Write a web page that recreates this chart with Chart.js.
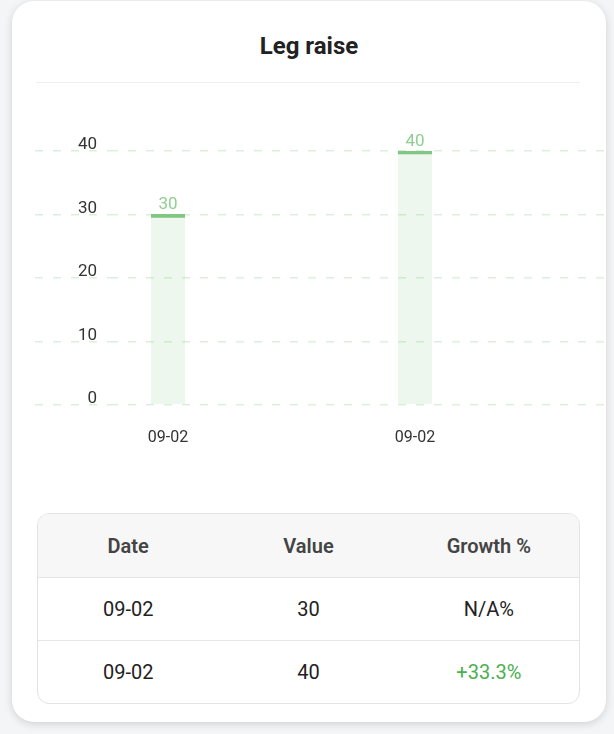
<!DOCTYPE html>
<html><head><meta charset="utf-8">
<script src="https://cdn.jsdelivr.net/npm/chart.js@4"></script>
<style>
html,body{margin:0;padding:0;width:614px;height:734px;overflow:hidden;background:#f4f5f7;font-family:Roboto,sans-serif;}
.card{position:absolute;left:12px;top:1px;width:594px;height:721px;background:#fff;border-radius:22px;box-shadow:0 2px 8px rgba(0,0,0,0.15);}
.title{position:absolute;left:0;top:31px;width:594px;text-align:center;font-weight:700;font-size:24px;color:#222;}
.hr{position:absolute;left:24px;top:81px;width:544px;height:1px;background:#eee;}
#wrap{position:absolute;left:0;top:90px;width:614px;height:400px;}
table{position:absolute;left:37px;top:513px;width:543px;table-layout:fixed;border-collapse:separate;border-spacing:0;border:1px solid #e3e3e3;border-radius:12px;overflow:hidden;font-size:20px;}
th{background:#f7f7f7;color:#444;font-weight:600;height:61px;border-bottom:1px solid #e6e6e6;}
td{text-align:center;color:#222;height:60px;}
tr.r1 td{border-bottom:1px solid #e6e6e6;}
.pos{color:#4caf50;}
</style></head><body>
<div class="card"><div class="title">Leg raise</div><div class="hr"></div></div>
<div id="wrap"><canvas id="c" width="614" height="400"></canvas></div>
<table><tr><th>Date</th><th>Value</th><th>Growth %</th></tr>
<tr class="r1"><td>09-02</td><td>30</td><td>N/A%</td></tr>
<tr><td>09-02</td><td>40</td><td class="pos">+33.3%</td></tr></table>
<script>
const categories = ['09-02','09-02'];
const values = [30, 40];
const yTicks = [0,10,20,30,40];

const labelPlugin = {id:'vl', afterDatasetsDraw(chart){
  const ctx=chart.ctx; const meta=chart.getDatasetMeta(0);
  ctx.save(); ctx.fillStyle='#8fcf8f'; ctx.font='17px Roboto'; ctx.textAlign='center'; ctx.textBaseline='bottom';
  meta.data.forEach((b,i)=>ctx.fillText(String(values[i]), b.x, b.y-1));
  ctx.restore();
}};
new Chart(document.getElementById('c'),{
  type:'bar',
  data:{datasets:[{data:values.map((v,i)=>({x:i,y:v})),backgroundColor:'rgba(76,175,80,0.1)',borderColor:'#81c784',borderWidth:{top:3,left:0,right:0,bottom:0},borderSkipped:false,barThickness:34}]},
  options:{responsive:false,animation:false,devicePixelRatio:1,
    layout:{padding:{top:61,bottom:18,left:0,right:0}},
    plugins:{legend:{display:false},tooltip:{enabled:false}},
    scales:{
      x:{type:'linear',min:-0.2348,max:1.8057,offset:false,grid:{display:false,drawTicks:false},border:{display:false},
        afterBuildTicks(s){s.ticks=categories.map((c,i)=>({value:i}));},
        ticks:{padding:24,color:'#333',font:{size:16,family:'Roboto'},callback:(v)=>categories[v]??''}},
      y:{min:0,max:40,border:{display:false,dash:[8,10]},
        afterBuildTicks(s){s.ticks=yTicks.map(v=>({value:v}));},
        afterFit(s){s.width=110;},
        grid:{color:'rgba(76,175,80,0.2)',lineWidth:1.5,tickLength:75,tickBorderDash:[8,10],tickColor:'rgba(76,175,80,0.2)'},
        ticks:{padding:-62,labelOffset:-6,color:'#333',font:{size:17,family:'Roboto'}}}
    }},
  plugins:[labelPlugin]
});
</script>
</body></html>
